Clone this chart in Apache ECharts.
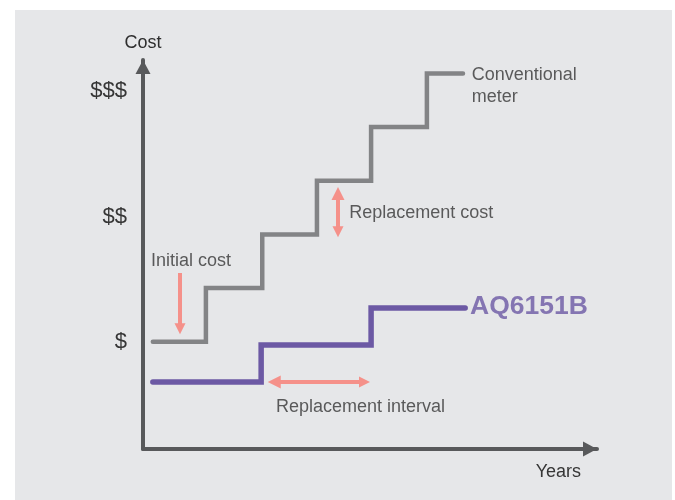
<!DOCTYPE html>
<html><head><meta charset="utf-8">
<script src="https://cdn.jsdelivr.net/npm/echarts@6/dist/echarts.min.js"></script>
<style>html,body{margin:0;padding:0;background:#fff}#c{width:675px;height:500px}</style>
</head><body><div id="c"></div>
<script>
// Data (x in interval units, y in cost units)
var conventionalX = [0.18, 1.15, 2.18, 3.18, 4.17, 5.19, 5.85];
var conventionalY = [2, 3, 4, 5, 6, 7, 7];
var aqX = [0.18, 2.16, 4.17, 5.89];
var aqY = [1.25, 1.94, 2.63, 2.63];
var yTickValues = [2, 4.33, 6.67];
var yTickLabels = ['$', '$$', '$$$'];
// annotation arrows: endpoints are the centres of the arrow heads
var arrows = [
  {from: [0.676, 3.28], to: [0.676, 2.24], both: false},
  {from: [3.565, 4.76], to: [3.565, 4.05], both: true},
  {from: [2.40, 1.25], to: [4.05, 1.25], both: true}
];
var notes = [
  {text: 'Initial cost', pos: [0.146, 3.50]},
  {text: 'Replacement cost', pos: [3.77, 4.40]},
  {text: 'Replacement interval', pos: [2.43, 0.78]},
  {text: 'Conventional\nmeter', pos: [6.01, 6.76]},
  {text: 'AQ6151B', pos: [5.98, 2.65], bold: true}
];

var FONT = '"Liberation Sans", Arial, Helvetica, sans-serif';
var AXIS = '#58595b', GRAY = '#838486', PURPLE = '#6c59a4', PINK = '#f5918a', TXT = '#363636';

function zip(xs, ys){ return xs.map(function(x,i){return [x, ys[i]];}); }

var chart = echarts.init(document.getElementById('c'), null, {renderer:'canvas'});
var series = [
  {type:'line', step:'end', data: zip(conventionalX, conventionalY), symbol:'none',
   lineStyle:{color:GRAY, width:4.5, cap:'round', join:'miter'}, z:3, silent:true},
  {type:'line', step:'end', data: zip(aqX, aqY), symbol:'none',
   lineStyle:{color:PURPLE, width:5.5, cap:'round', join:'miter'}, z:4, silent:true}
];
arrows.forEach(function(a){
  series.push({type:'lines', coordinateSystem:'cartesian2d', silent:true, z:5,
    symbol: a.both ? ['triangle','triangle'] : ['none','triangle'], symbolSize:[13,11],
    lineStyle:{color:PINK, width:4, opacity:1, curveness:0},
    data:[{coords:[a.from, a.to]}]});
});
series.push({type:'scatter', symbolSize:0, silent:true, z:6,
  data: notes.map(function(n){
    return {value:n.pos, label:{show:true, position:'right', distance:0, formatter:n.text,
      fontFamily:FONT, fontSize: n.bold?26.5:18, fontWeight: n.bold?'bold':'normal',
      color: n.bold?PURPLE:TXT, lineHeight: n.bold?30:22}};
  })});

chart.setOption({
  backgroundColor:'#ffffff',
  animation:false,
  graphic:[{type:'rect', z:-100, shape:{x:15, y:10, width:657, height:490}, style:{fill:'#e6e7e9'}}],
  grid:{left:143, right:78, top:60, bottom:51, containLabel:false},
  xAxis:{type:'value', min:0, max:8.3,
    axisLine:{show:true, onZero:false, symbol:['none','triangle'], symbolSize:[15,14], symbolOffset:[0,-7], lineStyle:{color:AXIS, width:4}},
    axisTick:{show:false}, axisLabel:{show:false}, splitLine:{show:false},
    name:'Years', nameLocation:'end', nameGap:-16,
    nameTextStyle:{fontFamily:FONT, fontSize:18, color:TXT, align:'right', verticalAlign:'top', padding:[14,0,0,0]}},
  yAxis:{type:'value', min:0, max:7.25,
    axisLine:{show:true, onZero:false, symbol:['none','triangle'], symbolSize:[15,14], symbolOffset:[0,-7], lineStyle:{color:AXIS, width:4}},
    axisTick:{show:false}, splitLine:{show:false},
    axisLabel:{show:true, customValues: yTickValues, margin:16,
      formatter:function(v){ var i = yTickValues.indexOf(v); return i>=0 ? yTickLabels[i] : ''; },
      fontFamily:FONT, fontSize:22, color:TXT},
    name:'Cost', nameLocation:'end', nameGap:8,
    nameTextStyle:{fontFamily:FONT, fontSize:18, color:'#2e2e2e', align:'center'}},
  series: series
});
</script></body></html>
